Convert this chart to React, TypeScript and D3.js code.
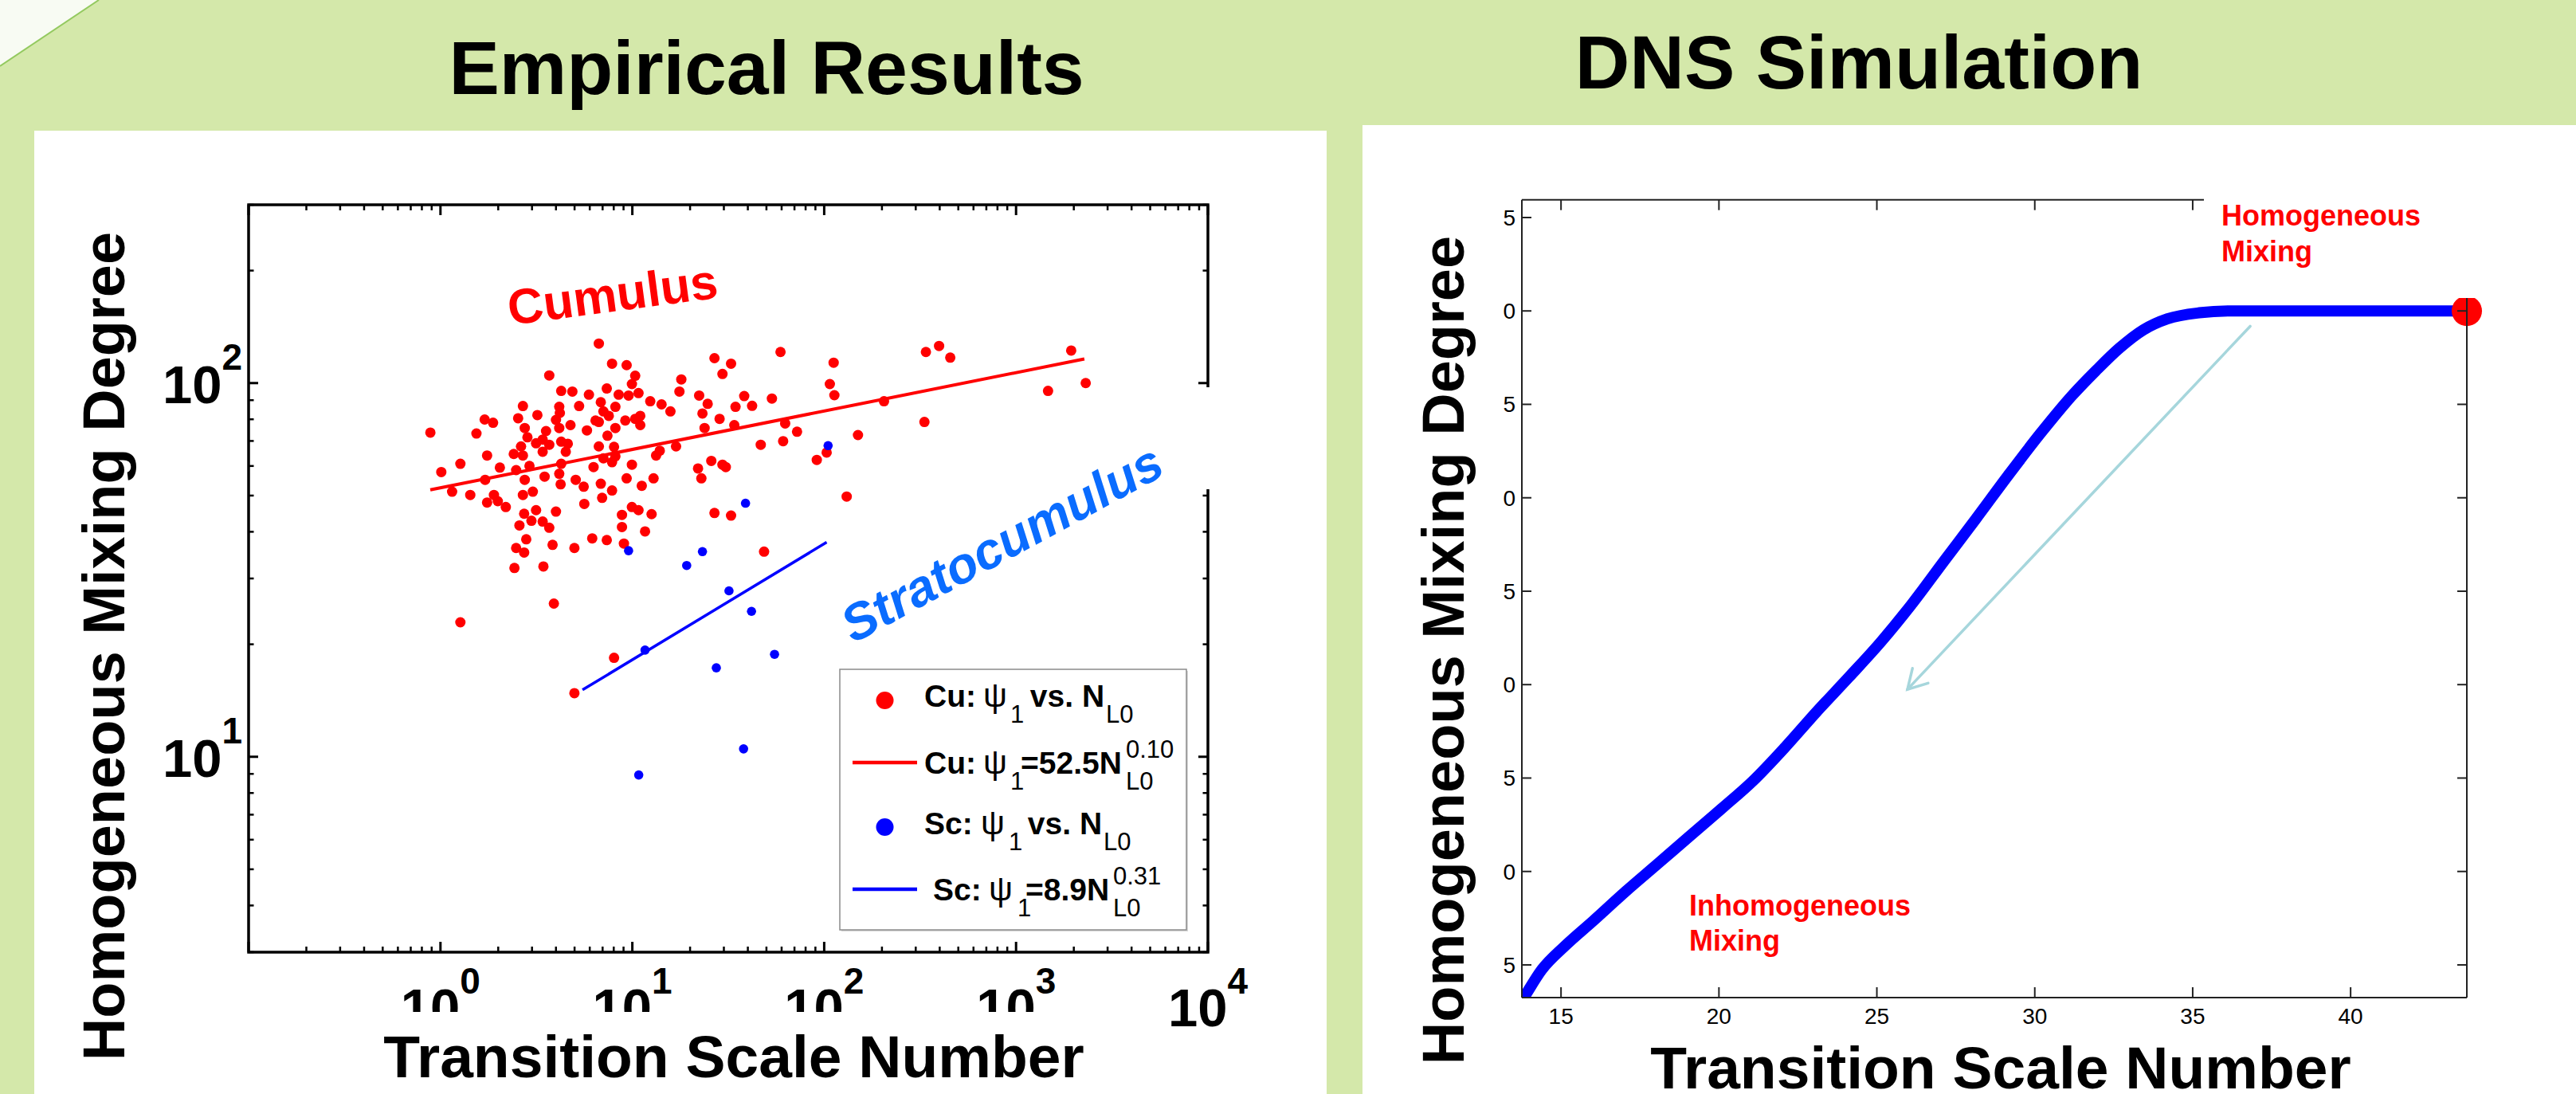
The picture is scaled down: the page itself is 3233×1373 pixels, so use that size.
import React from "react";
import * as d3 from "d3";

const FONT = "'Liberation Sans', Arial, Helvetica, sans-serif";

// ---------------- Left panel: empirical results (log-log) ----------------
// [N_L0, psi1]
const cuPoints: [number, number][] = [
  [6.69, 127.6], [7.84, 112.7], [9.34, 111.7], [10.35, 104.6], [9.95, 99.4], [3.69, 104.8],
  [26.8, 116.6], [32.7, 112.7], [29.5, 105.8], [59.2, 121.1], [112, 113.4], [339, 121.1],
  [397, 125.7], [454, 117.0], [1938, 122.2], [18.0, 102.3], [17.6, 94.9], [4.26, 95.3],
  [4.87, 94.9], [5.94, 93.1], [7.36, 96.7], [8.49, 93.1], [9.56, 92.6], [10.77, 94.0],
  [12.4, 89.4], [14.2, 87.7], [15.8, 84.0], [6.85, 88.9], [7.07, 84.0], [8.16, 86.4],
  [7.54, 81.7], [6.69, 78.7], [22.3, 92.6], [24.7, 88.0], [23.2, 82.9], [28.5, 80.2],
  [38.3, 92.3], [42.1, 86.9], [34.5, 86.4], [53.4, 90.9], [107, 99.4], [113, 92.8],
  [205, 89.4], [1468, 95.3], [2307, 100], [333, 78.7], [2.69, 86.8], [2.54, 80.5],
  [3.2, 82.1], [4.16, 86.4], [4.19, 83.2], [4.0, 79.7], [5.28, 86.8], [1.7, 79.9],
  [1.88, 78.3], [1.54, 73.3], [0.886, 73.7], [2.75, 75.8], [2.84, 71.6], [3.55, 74.4],
  [3.41, 70.6], [4.16, 75.8], [4.76, 77.2], [5.8, 74.7], [6.43, 79.4], [7.42, 72.3],
  [8.16, 75.8], [9.19, 79.4], [10.35, 80.2], [11.0, 81.7], [11.0, 77.2], [23.8, 75.8],
  [34.0, 77.2], [62.6, 78.0], [72.2, 74.1], [61.1, 69.9], [150, 72.6], [46.7, 68.4],
  [16.9, 67.7], [2.63, 67.7], [3.15, 69.0], [3.69, 68.4], [4.26, 69.7], [4.61, 68.8],
  [3.41, 65.5], [4.5, 65.5], [2.41, 64.6], [2.69, 64.0], [1.75, 64.0], [1.27, 60.8],
  [1.01, 57.8], [6.69, 67.7], [8.03, 67.5], [8.16, 63.7], [7.07, 62.9], [6.28, 59.6],
  [7.84, 61.4], [9.95, 60.5], [13.9, 65.9], [13.3, 64.0], [2.04, 59.4], [2.48, 58.5],
  [2.91, 60.0], [4.26, 60.8], [4.16, 57.2], [3.49, 56.2], [2.75, 55.1], [4.23, 53.6],
  [5.07, 55.1], [5.58, 52.8], [6.85, 53.8], [1.71, 55.1], [1.15, 51.2], [1.43, 50.2],
  [1.9, 50.2], [1.99, 48.3], [1.75, 47.9], [2.19, 46.6], [2.69, 50.2], [3.03, 51.2],
  [6.96, 49.3], [7.84, 51.6], [9.34, 55.6], [11.2, 53.1], [12.9, 55.6], [22.0, 59.1],
  [22.9, 55.6], [25.8, 61.9], [29.5, 60.5], [30.7, 59.6], [26.8, 44.9], [32.7, 44.2],
  [91.5, 62.3], [103, 65.2], [131, 49.7], [2.73, 44.7], [3.15, 45.7], [2.98, 42.8],
  [3.41, 42.6], [3.69, 41.0], [4.0, 45.3], [2.58, 41.6], [2.8, 38.2], [2.48, 36.2],
  [2.73, 35.2], [2.43, 32.0], [3.44, 32.3], [3.84, 36.9], [4.99, 36.2], [6.18, 38.4],
  [7.36, 38.0], [9.04, 37.2], [8.83, 41.2], [8.83, 44.4], [9.95, 46.6], [10.77, 45.7],
  [12.6, 44.6], [11.65, 40.1], [5.62, 47.5], [48.6, 35.4], [3.9, 25.7], [1.27, 22.9],
  [8.03, 18.4], [4.99, 14.8],
];
const scPoints: [number, number][] = [
  [104.8, 68.0], [38.9, 47.7], [9.56, 35.6], [23.2, 35.4], [19.2, 32.5], [31.9, 27.8],
  [41.8, 24.5], [55.1, 18.8], [11.65, 19.3], [27.4, 17.3], [38.0, 10.5], [10.8, 8.94],
];
const cuFit: [number, number][] = [[0.885, 51.8], [2270, 116]];
const scFit: [number, number][] = [[5.5, 15.1], [103, 37.5]];
const leftXMajor = [1, 10, 100, 1000, 10000];
const leftXExp = ["0", "1", "2", "3", "4"];
const leftYMajor = [10, 100];
const leftYExp = ["1", "2"];

// ---------------- Right panel: DNS simulation ----------------
const dnsN = [13.6, 13.84, 14.39, 15.13, 16.03, 17.04, 18.05, 19.06, 20.07, 21.08, 22.09, 23.1, 24.11, 25.12,
  26.13, 27.13, 28.14, 29.15, 30.16, 31.17, 31.93, 32.68, 33.44, 34.2, 35.21, 36.22, 37.48, 43.68];
const dnsPsi = [62.65, 63.29, 64.74, 66.02, 67.37, 68.92, 70.39, 71.87, 73.34, 74.85, 76.64, 78.56, 80.39, 82.27,
  84.36, 86.62, 88.88, 91.18, 93.4, 95.45, 96.79, 98.01, 98.99, 99.58, 99.9, 100.0, 100.0, 100.0];
const rightXTicks = [15, 20, 25, 30, 35, 40];
const rightYTicks = [65, 70, 75, 80, 85, 90, 95, 100, 105];
const arrowN = [36.82, 25.97];
const arrowPsi = [99.18, 79.75];

// legend
const legendItems = [
  { kind: "dot", color: "#ff0000", prefix: "Cu:", middle: "\u00a0vs. N", sup: "" },
  { kind: "line", color: "#ff0000", prefix: "Cu:", middle: "=52.5N", sup: "0.10" },
  { kind: "dot", color: "#0000ff", prefix: "Sc:", middle: "\u00a0vs. N", sup: "" },
  { kind: "line", color: "#0000ff", prefix: "Sc:", middle: "=8.9N", sup: "0.31" },
];
// layout of the legend text pieces: [prefix, psi, sub1, middle, L0/sup]
const legendSegX = [
  [1160, 1234, 1268, 1282, 1388],
  [1160, 1234, 1268, 1281, 1413],
  [1160, 1231, 1266, 1279, 1385],
  [1171, 1241, 1277, 1287, 1397],
];
const legRowY = [879, 957, 1038, 1116];
const legTextY = [887, 971, 1047, 1130];

function LegendText({ xs, y, item }: { xs: number[]; y: number; item: any }) {
  const big = 39, small = 31;
  return (
    <g fontFamily={FONT} fill="#000">
      <text x={xs[0]} y={y} fontSize={big} fontWeight="bold">{item.prefix}</text>
      <text x={xs[1]} y={y} fontSize={big + 3}>ψ</text>
      <text x={xs[2]} y={y + 20} fontSize={small}>1</text>
      <text x={xs[3]} y={y} fontSize={big} fontWeight="bold">{item.middle}</text>
      <text x={xs[4]} y={y + 20} fontSize={small}>L0</text>
      {item.sup ? <text x={xs[4]} y={y - 20} fontSize={small}>{item.sup}</text> : null}
    </g>
  );
}

export default function App() {
  const L = { x0: 312, x1: 1516, y0: 257, y1: 1195 };
  const R = { x0: 1910, x1: 3096, y0: 250.7, y1: 1252 };
  const xL = d3.scaleLog().domain([0.1, 1e4]).range([L.x0, L.x1]);
  const yL = d3.scaleLog().domain([3, 300]).range([L.y1, L.y0]);
  const xR = d3.scaleLinear().domain([13.76, 43.68]).range([R.x0, R.x1]);
  const yR = d3.scaleLinear().domain([63.25, 105.95]).range([R.y1, R.y0]);

  const xMinor: number[] = [];
  for (let e = -1; e <= 3; e++) for (let m = 2; m <= 9; m++) xMinor.push(m * Math.pow(10, e));
  const xMajorAll = [0.1, ...leftXMajor];
  const yMinor: number[] = [];
  for (let e = 0; e <= 2; e++) for (let m = 2; m <= 9; m++) {
    const v = m * Math.pow(10, e);
    if (v >= 3 && v <= 300) yMinor.push(v);
  }

  const fitLine = d3.line<[number, number]>().x((d) => xL(d[0])).y((d) => yL(d[1]));
  const dnsData = dnsN.map((n, i) => [n, dnsPsi[i]] as [number, number]);
  const dnsLine = d3.line<[number, number]>().x((d) => xR(d[0])).y((d) => yR(d[1])).curve(d3.curveMonotoneX);

  // arrow
  const ax0 = xR(arrowN[0]), ay0 = yR(arrowPsi[0]);
  const ax1 = xR(arrowN[1]), ay1 = yR(arrowPsi[1]);
  const ang = Math.atan2(ay0 - ay1, ax0 - ax1);
  const hl = 27, ha = (30 * Math.PI) / 180;
  const b1 = [ax1 + hl * Math.cos(ang + ha), ay1 + hl * Math.sin(ang + ha)];
  const b2 = [ax1 + hl * Math.cos(ang - ha), ay1 + hl * Math.sin(ang - ha)];

  const lastN = dnsN[dnsN.length - 1], lastPsi = dnsPsi[dnsPsi.length - 1];

  return (
    <>
      <style>{`body{margin:0;overflow:hidden;background:#d4e8aa}`}</style>
      <svg width={3233} height={1373} style={{ display: "block" }} fontFamily={FONT}>
        <defs>
          <clipPath id="rclip">
            <rect x={R.x0} y={R.y0} width={R.x1 - R.x0} height={R.y1 - R.y0} />
          </clipPath>
        </defs>
        {/* background */}
        <rect x={0} y={0} width={3233} height={1373} fill="#d4e8aa" />
        <polygon points="0,0 124,0 0,83" fill="#f8fbf3" />
        <line x1={124} y1={0} x2={0} y2={83} stroke="#93c95f" strokeWidth={2} />
        <rect x={43} y={164} width={1622} height={1209} fill="#ffffff" />
        <rect x={1710} y={157} width={1523} height={1216} fill="#ffffff" />

        {/* titles */}
        <text x={962} y={118} textAnchor="middle" fontSize={95} fontWeight="bold" fill="#000">Empirical Results</text>
        <text x={2333} y={111} textAnchor="middle" fontSize={95} fontWeight="bold" fill="#000">DNS Simulation</text>

        {/* ================= LEFT CHART ================= */}
        <g>
          {cuPoints.map((d, i) => (
            <circle key={"c" + i} cx={xL(d[0])} cy={yL(d[1])} r={6.5} fill="#ff0000" />
          ))}
          {scPoints.map((d, i) => (
            <circle key={"s" + i} cx={xL(d[0])} cy={yL(d[1])} r={5.8} fill="#0000ff" />
          ))}
          <path d={fitLine(cuFit) || ""} stroke="#ff0000" strokeWidth={4} fill="none" />
          <path d={fitLine(scFit) || ""} stroke="#0000ff" strokeWidth={3.5} fill="none" />

          <text transform="translate(640,408) rotate(-7.5)" fontSize={62} fontWeight="bold" fill="#ff0000">Cumulus</text>
          <text transform="translate(1071,808) rotate(-28.5)" fontSize={64} fontWeight="bold" fontStyle="italic" fill="#0a6cff">Stratocumulus</text>

          {/* axes box */}
          <rect x={L.x0} y={L.y0} width={L.x1 - L.x0} height={L.y1 - L.y0} fill="none" stroke="#000" strokeWidth={3.5} />
          {xMajorAll.map((v, i) => (
            <g key={"xm" + i} stroke="#000" strokeWidth={3}>
              <line x1={xL(v)} x2={xL(v)} y1={L.y1} y2={L.y1 - 13} />
              <line x1={xL(v)} x2={xL(v)} y1={L.y0} y2={L.y0 + 13} />
            </g>
          ))}
          {xMinor.map((v, i) => (
            <g key={"xn" + i} stroke="#000" strokeWidth={2.5}>
              <line x1={xL(v)} x2={xL(v)} y1={L.y1} y2={L.y1 - 7} />
              <line x1={xL(v)} x2={xL(v)} y1={L.y0} y2={L.y0 + 7} />
            </g>
          ))}
          {leftYMajor.map((v, i) => (
            <g key={"ym" + i} stroke="#000" strokeWidth={3}>
              <line x1={L.x0} x2={L.x0 + 12} y1={yL(v)} y2={yL(v)} />
              <line x1={L.x1} x2={L.x1 - 12} y1={yL(v)} y2={yL(v)} />
            </g>
          ))}
          {yMinor.map((v, i) => (
            <g key={"yn" + i} stroke="#000" strokeWidth={2.5}>
              <line x1={L.x0} x2={L.x0 + 6.5} y1={yL(v)} y2={yL(v)} />
              <line x1={L.x1} x2={L.x1 - 6.5} y1={yL(v)} y2={yL(v)} />
            </g>
          ))}
          {/* text box of Stratocumulus hides part of right axis */}
          <rect x={1495} y={486} width={35} height={128} fill="#fff" />

          {/* legend */}
          <rect x={1056} y={842} width={435} height={327} fill="#d8d8d8" />
          <rect x={1054} y={840} width={435} height={327} fill="#fff" stroke="#8a8a8a" strokeWidth={1.5} />
          {legendItems.map((it, i) => (
            <g key={"lg" + i}>
              {it.kind === "dot" ? (
                <circle cx={1110.5} cy={legRowY[i]} r={11} fill={it.color} />
              ) : (
                <line x1={1070} x2={1151} y1={legRowY[i]} y2={legRowY[i]} stroke={it.color} strokeWidth={4.5} />
              )}
              <LegendText xs={legendSegX[i]} y={legTextY[i]} item={it} />
            </g>
          ))}

          {/* tick labels */}
          {leftXMajor.map((v, i) => (
            <text key={"xl" + i} x={xL(v)} y={1288} textAnchor="middle" fontSize={67} fontWeight="bold" fill="#000">
              10<tspan fontSize={46} dy={-41}>{leftXExp[i]}</tspan>
            </text>
          ))}
          {leftYMajor.map((v, i) => (
            <text key={"yl" + i} x={304} y={yL(v) + 25.5} textAnchor="end" fontSize={67} fontWeight="bold" fill="#000">
              10<tspan fontSize={46} dy={-42}>{leftYExp[i]}</tspan>
            </text>
          ))}
          {/* label box hides lower part of tick labels */}
          <rect x={400} y={1270} width={1040} height={30} fill="#fff" />
          <text x={921} y={1352} textAnchor="middle" fontSize={75} fontWeight="bold" fill="#000">Transition Scale Number</text>
          <text transform="translate(156,811) rotate(-90)" textAnchor="middle" fontSize={74} fontWeight="bold" fill="#000">Homogeneous Mixing Degree</text>
        </g>

        {/* ================= RIGHT CHART ================= */}
        <g>
          <path d={dnsLine(dnsData) || ""} stroke="#0000ff" strokeWidth={14} fill="none" clipPath="url(#rclip)" />
          <g stroke="#a6d6dc" strokeWidth={3.5} fill="none" strokeLinecap="round">
            <line x1={ax0} y1={ay0} x2={ax1} y2={ay1} />
            <polyline points={`${b1[0]},${b1[1]} ${ax1},${ay1} ${b2[0]},${b2[1]}`} />
          </g>
          <circle cx={xR(lastN)} cy={yR(lastPsi)} r={19} fill="#ff0000" />

          <g stroke="#222" strokeWidth={2}>
            <line x1={R.x0} x2={R.x1} y1={R.y0} y2={R.y0} />
            <line x1={R.x0} x2={R.x1} y1={R.y1} y2={R.y1} />
            <line x1={R.x0} x2={R.x0} y1={R.y0} y2={R.y1} />
            <line x1={R.x1} x2={R.x1} y1={R.y0} y2={R.y1} />
            {rightXTicks.map((v, i) => (
              <g key={"rx" + i}>
                <line x1={xR(v)} x2={xR(v)} y1={R.y1} y2={R.y1 - 13} />
                <line x1={xR(v)} x2={xR(v)} y1={R.y0} y2={R.y0 + 13} />
              </g>
            ))}
            {rightYTicks.map((v, i) => (
              <g key={"ry" + i}>
                <line x1={R.x0} x2={R.x0 + 12} y1={yR(v)} y2={yR(v)} />
                <line x1={R.x1} x2={R.x1 - 12} y1={yR(v)} y2={yR(v)} />
              </g>
            ))}
          </g>
          {/* text box of "Homogeneous Mixing" covers top-right corner */}
          <rect x={2766} y={157} width={467} height={217} fill="#fff" />
          <text x={2788} y={283} fontSize={36} fontWeight="bold" fill="#ff0000">Homogeneous</text>
          <text x={2788} y={328} fontSize={36} fontWeight="bold" fill="#ff0000">Mixing</text>
          <text x={2120} y={1149} fontSize={36} fontWeight="bold" fill="#ff0000">Inhomogeneous</text>
          <text x={2120} y={1193} fontSize={36} fontWeight="bold" fill="#ff0000">Mixing</text>

          {rightXTicks.map((v, i) => (
            <text key={"rxl" + i} x={xR(v)} y={1285} textAnchor="middle" fontSize={28} fill="#000">{v}</text>
          ))}
          {rightYTicks.map((v, i) => (
            <text key={"ryl" + i} x={1902} y={yR(v) + 10} textAnchor="end" fontSize={28} fill="#000">{v}</text>
          ))}
          {/* y-label box hides leading digits of tick labels */}
          <rect x={1712} y={240} width={174} height={1030} fill="#fff" />
          <text x={2511} y={1366} textAnchor="middle" fontSize={75} fontWeight="bold" fill="#000">Transition Scale Number</text>
          <text transform="translate(1837,816) rotate(-90)" textAnchor="middle" fontSize={74} fontWeight="bold" fill="#000">Homogeneous Mixing Degree</text>
        </g>
      </svg>
    </>
  );
}
